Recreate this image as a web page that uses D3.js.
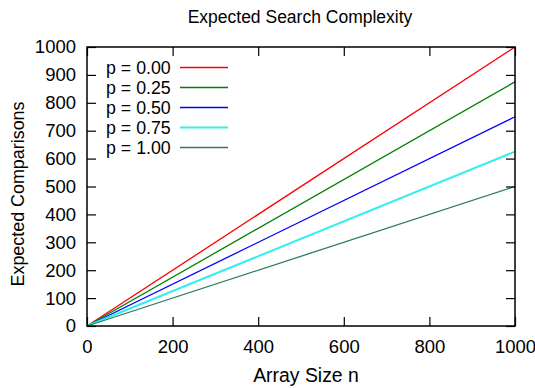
<!DOCTYPE html>
<html>
<head>
<meta charset="utf-8">
<script src="https://cdn.jsdelivr.net/npm/d3@7"></script>
<style>
  body { margin: 0; background: #fff; }
  text { font-family: "Liberation Sans", Arial, sans-serif; fill: #000; }
</style>
</head>
<body>
<svg width="535" height="388"></svg>
<script>
// endpoints of each line (array size n -> expected comparisons)
const sizes = [0, 1000];
const probs = ["0.00", "0.25", "0.50", "0.75", "1.00"];
const comparisons = [
  [0, 1000],
  [0, 875],
  [0, 750],
  [0, 625],
  [0, 500]
];
const colors = ["#ff0000", "#008000", "#0000ff", "#33eeee", "#2e7d5a"];
const xTicks = [0, 200, 400, 600, 800, 1000];
const yTicks = [0, 100, 200, 300, 400, 500, 600, 700, 800, 900, 1000];

const svg = d3.select("svg");
const margin = { left: 87, right: 515, top: 47, bottom: 326 };

const x = d3.scaleLinear().domain([0, 1000]).range([margin.left, margin.right]);
const y = d3.scaleLinear().domain([0, 1000]).range([margin.bottom, margin.top]);

// lines first, frame drawn on top
const line = d3.line()
  .x((d, i) => x(sizes[i]))
  .y(d => y(d));

svg.selectAll("path.series")
  .data(comparisons)
  .enter()
  .append("path")
  .attr("class", "series")
  .attr("d", d => line(d))
  .attr("fill", "none")
  .attr("stroke", (d, i) => colors[i])
  .attr("stroke-width", (d, i) => i === 3 ? 2 : 1.3);

// axes with inward ticks, mirrored on the opposite side
const tick = 9;
const fmt = d3.format("d");
svg.append("g")
  .attr("transform", `translate(0,${margin.bottom})`)
  .call(d3.axisBottom(x).tickValues(xTicks).tickSize(-tick).tickPadding(14).tickFormat(fmt))
  .call(g => g.select(".domain").remove());
svg.append("g")
  .attr("transform", `translate(0,${margin.top})`)
  .call(d3.axisTop(x).tickValues(xTicks).tickSize(-tick).tickFormat(""))
  .call(g => g.select(".domain").remove());
svg.append("g")
  .attr("transform", `translate(${margin.left},0)`)
  .call(d3.axisLeft(y).tickValues(yTicks).tickSize(-tick).tickPadding(11).tickFormat(fmt))
  .call(g => g.select(".domain").remove());
svg.append("g")
  .attr("transform", `translate(${margin.right},0)`)
  .call(d3.axisRight(y).tickValues(yTicks).tickSize(-tick).tickFormat(""))
  .call(g => g.select(".domain").remove());

svg.selectAll(".tick line").attr("stroke", "#000").attr("stroke-width", 1.2);
svg.selectAll(".tick text")
  .style("font-family", "'Liberation Sans', Arial, sans-serif")
  .style("font-size", "18.5px")
  .attr("fill", "#000");

svg.append("rect")
  .attr("x", margin.left)
  .attr("y", margin.top)
  .attr("width", margin.right - margin.left)
  .attr("height", margin.bottom - margin.top)
  .attr("fill", "none")
  .attr("stroke", "#000")
  .attr("stroke-width", 1.5);

// legend
const legend = svg.selectAll("g.legend")
  .data(probs)
  .enter()
  .append("g")
  .attr("class", "legend")
  .attr("transform", (d, i) => `translate(0,${67.5 + i * 20})`);

legend.append("text")
  .attr("x", 106)
  .attr("dy", "0.35em")
  .style("font-size", "17.8px")
  .text(d => `p = ${d}`);

legend.append("line")
  .attr("x1", 180)
  .attr("x2", 228)
  .attr("stroke", (d, i) => colors[i])
  .attr("stroke-width", (d, i) => i === 3 ? 2 : 1.3);

// titles
svg.append("text")
  .attr("x", 300)
  .attr("y", 23)
  .attr("text-anchor", "middle")
  .style("font-size", "17.5px")
  .text("Expected Search Complexity");

svg.append("text")
  .attr("x", 306)
  .attr("y", 382)
  .attr("text-anchor", "middle")
  .style("font-size", "19.4px")
  .text("Array Size n");

svg.append("text")
  .attr("transform", "translate(24,194) rotate(-90)")
  .attr("text-anchor", "middle")
  .style("font-size", "17.9px")
  .text("Expected Comparisons");
</script>
</body>
</html>
